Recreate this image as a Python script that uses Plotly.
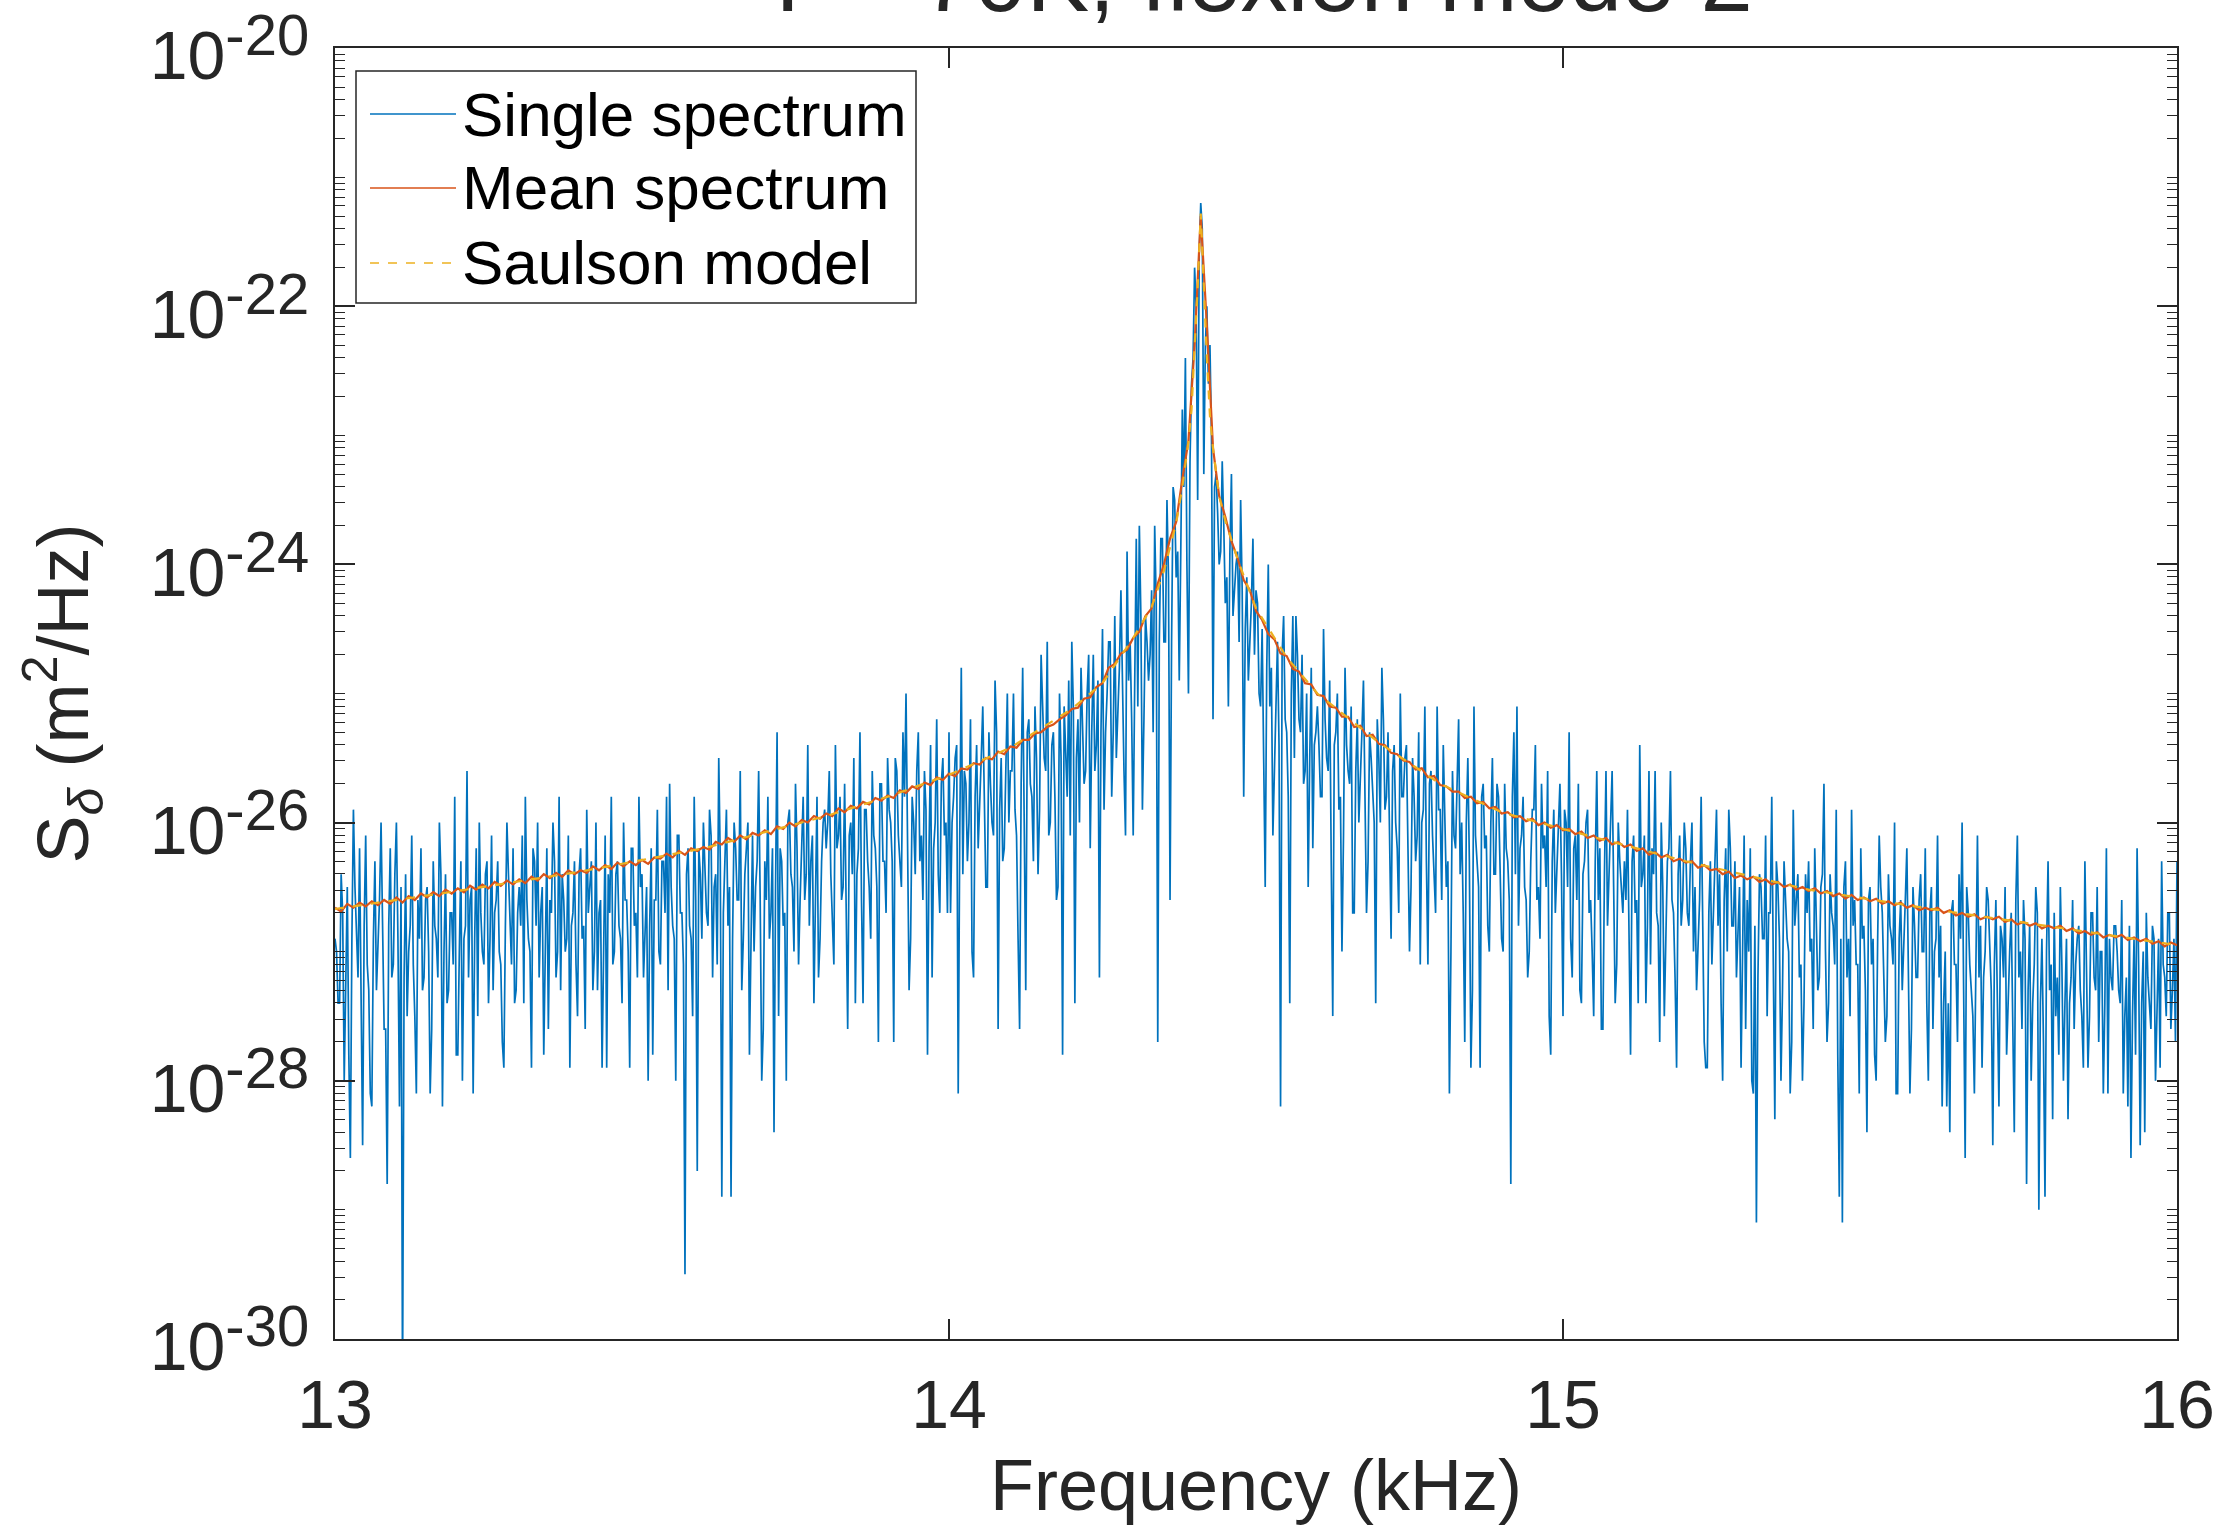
import numpy as np
import plotly.graph_objects as go

# ---------------- data (log10 of PSD in m^2/Hz) ----------------
freq_start_khz = 13.0
freq_stop_khz = 16.0

# single spectrum, 2.5 Hz bins from 13.0000 to 16.0000 kHz (1201 values), one row per 0.1 kHz
single_log10 = [
    -26.9, -27.0, -27.4, -27.4, -26.4, -26.7, -28.0, -27.1, -26.5, -27.8, -28.6, -26.9, -25.9, -26.5, -26.8, -27.2, -26.2, -27.5, -28.5, -26.8, -26.1, -27.1, -27.3, -28.1, -28.2, -26.9, -26.3, -27.3, -26.9, -26.6, -26.0, -27.0, -27.6, -27.6, -28.8, -26.8, -26.2, -27.2, -27.1, -26.4,
    -26.0, -26.9, -28.2, -26.5, -30.4, -27.2, -26.4, -27.5, -27.0, -26.8, -26.1, -27.1, -27.5, -28.1, -26.6, -26.9, -26.2, -27.3, -27.2, -26.6, -26.5, -27.0, -28.1, -27.6, -26.3, -26.8, -26.9, -27.2, -26.0, -26.4, -28.2, -27.0, -26.4, -27.4, -27.3, -26.7, -26.7, -27.1, -25.8, -27.8,
    -27.8, -27.0, -26.3, -28.0, -26.9, -26.8, -25.6, -27.2, -26.6, -26.5, -28.1, -26.9, -26.2, -27.5, -26.0, -26.7, -27.0, -27.1, -26.4, -26.3, -27.4, -26.9, -26.1, -27.3, -26.7, -26.6, -26.3, -27.0, -27.1, -27.7, -27.9, -26.8, -26.0, -26.4, -26.8, -27.1, -26.2, -27.4, -27.3, -26.7,
    -26.5, -26.8, -26.1, -27.4, -25.8, -26.6, -26.9, -27.0, -27.9, -26.2, -26.3, -26.8, -26.0, -27.2, -26.7, -26.5, -27.8, -26.9, -26.2, -27.6, -26.6, -26.7, -26.0, -26.3, -27.2, -27.0, -25.8, -27.3, -26.4, -26.6, -27.0, -26.9, -26.1, -27.9, -26.8, -26.7, -26.3, -27.1, -27.5, -26.4,
    -26.2, -26.9, -26.8, -27.6, -25.9, -26.7, -26.5, -26.3, -27.3, -27.0, -26.0, -27.3, -26.7, -26.6, -27.9, -26.9, -26.1, -27.9, -26.4, -26.7, -25.8, -27.1, -27.0, -26.4, -26.3, -26.8, -26.9, -27.4, -26.0, -26.6, -26.6, -27.0, -27.9, -26.2, -26.2, -26.8, -26.7, -27.2, -25.8, -26.5,
    -26.4, -27.2, -26.9, -26.5, -28.0, -26.8, -26.2, -27.8, -26.6, -26.6, -25.9, -27.0, -27.1, -26.3, -26.3, -26.7, -25.8, -27.3, -25.7, -26.5, -26.8, -26.9, -28.0, -26.1, -26.1, -26.7, -26.7, -27.1, -29.5, -26.4, -26.2, -26.8, -26.9, -27.5, -25.8, -26.6, -28.7, -26.2, -26.4, -26.9,
    -26.0, -26.4, -26.7, -26.8, -25.9, -26.1, -27.2, -26.5, -26.4, -27.1, -25.5, -26.3, -28.9, -26.7, -26.3, -25.9, -26.8, -26.5, -28.9, -26.9, -26.0, -26.2, -26.6, -26.6, -25.6, -27.3, -26.9, -26.4, -26.2, -26.0, -27.8, -26.7, -26.1, -27.0, -26.5, -26.3, -25.6, -26.6, -28.0, -27.6,
    -26.3, -26.6, -25.8, -26.9, -26.7, -26.2, -28.4, -26.5, -25.3, -27.5, -26.2, -26.3, -26.8, -26.7, -28.0, -26.0, -25.9, -26.4, -26.5, -27.0, -25.7, -26.2, -27.1, -26.6, -26.1, -25.8, -26.6, -26.4, -25.4, -26.8, -26.3, -26.1, -27.4, -26.5, -25.8, -27.2, -26.9, -26.3, -26.0, -25.9,
    -26.2, -26.0, -25.6, -26.4, -26.8, -27.1, -25.4, -26.2, -26.1, -25.8, -26.6, -26.5, -25.7, -26.8, -27.6, -26.1, -26.0, -26.4, -25.5, -27.4, -26.4, -26.2, -25.3, -26.6, -27.4, -25.9, -25.9, -26.3, -26.5, -26.9, -25.6, -26.1, -26.2, -26.5, -27.7, -25.7, -25.7, -26.3, -26.3, -26.7,
    -25.5, -25.9, -26.0, -26.3, -27.7, -25.5, -25.6, -26.1, -26.3, -26.5, -25.3, -25.8, -25.0, -26.2, -27.3, -26.9, -25.8, -26.0, -26.4, -25.6, -25.3, -26.3, -26.1, -26.6, -25.6, -25.9, -27.8, -26.2, -25.4, -27.2, -26.2, -26.0, -25.2, -26.4, -26.7, -25.7, -25.5, -26.1, -26.0, -26.7,
    -25.3, -26.7, -26.0, -25.8, -25.5, -25.4, -28.1, -26.1, -24.8, -26.4, -25.6, -25.7, -26.3, -26.0, -25.2, -27.0, -27.2, -25.8, -25.4, -26.2, -25.9, -25.5, -25.1, -25.9, -26.5, -26.5, -25.3, -25.7, -26.0, -26.1, -24.9, -25.3, -27.6, -25.9, -25.5, -26.3, -26.2, -25.6, -25.0, -26.0,
    -25.6, -25.6, -25.0, -25.9, -26.1, -26.9, -27.6, -25.7, -24.8, -26.0, -27.3, -25.3, -25.2, -25.7, -25.8, -26.3, -25.1, -25.5, -26.4, -25.9, -24.7, -25.1, -25.5, -25.6, -24.6, -26.1, -26.0, -25.4, -25.3, -25.8, -26.6, -26.5, -25.0, -25.5, -27.8, -25.1, -25.4, -25.8, -24.9, -26.1,
    -24.6, -25.1, -27.4, -25.5, -25.2, -26.0, -24.8, -25.2, -25.7, -25.6, -25.0, -24.7, -26.2, -25.3, -24.7, -25.6, -25.4, -24.9, -27.2, -25.3, -24.5, -25.9, -25.3, -25.0, -24.6, -24.6, -25.8, -25.3, -24.4, -25.5, -25.1, -24.8, -24.2, -25.1, -25.6, -26.1, -23.9, -24.9, -24.6, -25.2,
    -26.1, -24.9, -23.8, -25.1, -23.7, -24.4, -25.9, -25.2, -24.4, -24.6, -24.9, -24.7, -24.2, -25.3, -23.7, -24.3, -27.7, -24.6, -23.8, -23.8, -24.6, -24.6, -23.5, -24.1, -26.6, -24.6, -23.4, -23.5, -24.1, -23.9, -24.9, -23.9, -22.8, -23.4, -22.4, -24.0, -25.0, -23.2, -22.6, -22.4,
    -21.7, -22.0, -23.5, -21.6, -21.2, -21.4, -23.3, -22.3, -22.0, -22.6, -22.3, -23.0, -25.2, -23.4, -23.3, -23.6, -24.0, -23.9, -23.2, -23.7, -24.3, -24.1, -25.1, -23.9, -23.3, -24.4, -24.2, -24.0, -23.9, -24.6, -23.5, -24.2, -25.8, -24.5, -24.1, -24.9, -24.6, -24.3, -23.8, -24.7,
    -24.2, -24.3, -25.0, -25.1, -24.5, -25.4, -26.5, -24.8, -24.0, -25.1, -24.8, -26.1, -25.6, -25.0, -24.6, -25.4, -28.2, -24.7, -24.4, -25.2, -25.3, -25.8, -27.4, -25.0, -24.4, -25.5, -24.4, -24.7, -25.2, -25.3, -24.7, -25.7, -25.6, -25.0, -26.5, -25.5, -24.8, -26.2, -25.4, -25.3,
    -25.1, -25.4, -25.8, -25.8, -24.5, -25.2, -25.5, -25.6, -24.9, -26.3, -27.5, -25.4, -25.3, -25.0, -25.9, -25.8, -27.0, -26.1, -24.8, -25.4, -25.6, -25.7, -25.1, -26.7, -26.7, -25.6, -25.2, -26.0, -25.7, -25.3, -24.9, -25.7, -26.7, -26.3, -25.3, -25.5, -25.8, -26.0, -27.4, -25.2,
    -25.5, -26.0, -24.8, -25.2, -25.9, -25.8, -25.3, -26.3, -26.9, -25.6, -25.4, -26.0, -26.2, -26.7, -25.0, -25.8, -25.8, -25.5, -25.4, -26.2, -27.0, -26.5, -25.5, -25.8, -26.3, -26.1, -25.3, -27.1, -26.0, -25.9, -25.1, -26.3, -27.1, -25.7, -25.6, -26.1, -26.4, -26.7, -25.1, -25.9,
    -25.9, -26.6, -25.4, -25.9, -26.5, -26.3, -28.1, -27.0, -25.6, -26.1, -26.2, -25.7, -25.2, -26.4, -26.0, -26.7, -27.7, -26.0, -25.5, -26.3, -27.9, -27.3, -25.1, -26.1, -26.3, -26.5, -27.9, -25.8, -25.7, -26.2, -26.1, -26.8, -27.0, -26.0, -25.5, -26.4, -26.4, -25.7, -25.8, -26.3,
    -26.9, -27.0, -25.7, -26.2, -26.3, -26.6, -28.8, -25.8, -25.3, -26.4, -25.1, -26.8, -26.2, -26.1, -25.8, -26.5, -26.6, -27.2, -27.0, -26.3, -25.9, -25.9, -25.4, -26.6, -26.5, -26.9, -25.7, -26.2, -26.1, -26.5, -25.6, -27.5, -27.8, -26.3, -25.9, -26.7, -26.4, -26.0, -25.7, -26.4,
    -27.5, -25.9, -26.0, -26.5, -25.3, -26.9, -27.2, -26.2, -26.1, -26.6, -25.7, -27.3, -27.4, -26.4, -26.3, -26.0, -25.9, -26.7, -26.6, -27.0, -27.5, -26.3, -25.6, -26.6, -26.2, -27.6, -27.6, -26.4, -25.6, -26.8, -26.4, -26.1, -25.6, -26.5, -27.4, -27.1, -26.0, -26.3, -26.5, -26.7,
    -26.3, -26.6, -25.9, -27.0, -27.8, -26.3, -26.1, -26.7, -26.6, -27.4, -25.4, -26.5, -26.4, -26.1, -27.4, -26.8, -25.6, -27.1, -26.2, -26.4, -25.6, -26.7, -26.8, -27.7, -26.0, -26.5, -27.5, -26.9, -26.3, -26.2, -25.6, -26.6, -26.7, -27.2, -27.9, -26.4, -26.1, -26.8, -26.6, -26.0,
    -26.2, -26.7, -26.8, -26.3, -26.0, -27.0, -26.5, -27.3, -27.0, -26.6, -25.8, -26.9, -27.7, -27.9, -27.9, -26.7, -26.3, -27.1, -26.7, -26.4, -25.9, -26.8, -26.4, -27.4, -28.0, -26.6, -26.2, -27.0, -25.9, -26.2, -26.8, -26.8, -26.3, -27.2, -26.9, -26.5, -27.9, -26.9, -26.1, -27.6,
    -26.6, -27.0, -26.2, -28.0, -28.1, -26.8, -29.1, -27.2, -26.4, -26.5, -26.9, -26.9, -26.1, -27.5, -26.7, -26.7, -25.8, -27.1, -28.3, -26.3, -26.5, -26.9, -28.0, -27.3, -26.3, -26.6, -26.9, -27.0, -28.1, -27.7, -25.9, -26.8, -26.6, -26.4, -27.2, -27.1, -28.0, -27.4, -26.4, -26.7,
    -26.3, -27.0, -26.9, -27.6, -26.2, -26.8, -27.3, -27.2, -26.5, -26.4, -25.7, -27.0, -27.7, -27.4, -26.4, -26.7, -26.8, -27.1, -25.9, -27.8, -28.9, -26.9, -29.1, -26.5, -26.3, -27.2, -26.9, -27.5, -25.9, -26.8, -26.6, -27.1, -27.1, -28.1, -26.2, -26.9, -26.8, -27.3, -28.4, -26.6,
    -26.5, -27.1, -26.9, -27.8, -28.0, -26.9, -26.1, -26.5, -26.7, -27.2, -27.7, -27.5, -26.4, -26.8, -26.9, -27.1, -26.0, -28.1, -28.1, -26.9, -26.6, -27.3, -27.0, -26.6, -26.2, -27.0, -28.1, -27.6, -26.5, -26.8, -27.2, -27.2, -26.6, -26.4, -27.0, -27.0, -26.2, -27.4, -28.0, -26.7,
    -26.5, -27.6, -27.0, -26.9, -26.1, -27.2, -26.8, -28.2, -27.4, -27.0, -28.2, -27.4, -28.4, -26.7, -26.6, -27.1, -27.1, -27.7, -26.4, -26.9, -26.0, -27.3, -28.6, -26.5, -26.7, -27.1, -27.3, -27.5, -28.1, -26.8, -26.1, -27.2, -26.8, -27.9, -27.2, -27.0, -26.5, -26.6, -27.0, -27.3,
    -28.5, -27.1, -26.6, -27.5, -28.2, -26.8, -26.9, -27.2, -26.5, -27.8, -27.3, -27.0, -26.7, -27.4, -28.4, -26.6, -26.1, -27.2, -27.0, -27.6, -26.6, -26.9, -28.8, -27.3, -26.8, -28.0, -27.4, -27.1, -26.5, -26.7, -29.0, -27.4, -26.9, -27.7, -28.9, -27.0, -26.3, -27.3, -27.1, -28.3,
    -26.7, -27.5, -27.2, -27.8, -26.5, -27.1, -28.0, -27.4, -26.9, -28.3, -27.4, -27.2, -26.6, -27.6, -27.1, -26.9, -26.8, -27.3, -27.5, -27.9, -26.3, -27.1, -27.9, -27.5, -26.7, -26.7, -27.2, -27.3, -26.5, -27.7, -27.0, -27.0, -28.1, -27.4, -26.2, -28.1, -26.9, -27.2, -27.3, -26.8,
    -26.8, -27.0, -27.3, -27.4, -26.6, -28.1, -27.5, -27.2, -28.2, -26.8, -28.6, -27.5, -26.9, -27.8, -26.2, -27.1, -28.5, -27.4, -27.0, -28.4, -26.7, -27.2, -27.4, -27.6, -26.8, -26.9, -28.0, -27.3, -26.9, -27.9, -26.3, -27.1, -27.2, -27.5, -26.7, -26.7, -27.6, -27.3, -26.9, -27.7,
    -26.3,
]

# mean spectrum, 10 Hz bins from 13.00 to 16.00 kHz (301 values)
mean_log10 = [
    -26.66, -26.69, -26.63, -26.66, -26.62, -26.65, -26.61, -26.64, -26.60, -26.63,
    -26.58, -26.62, -26.57, -26.60, -26.55, -26.58, -26.54, -26.57, -26.52, -26.55,
    -26.51, -26.54, -26.49, -26.52, -26.48, -26.51, -26.46, -26.49, -26.45, -26.48,
    -26.44, -26.47, -26.42, -26.45, -26.40, -26.43, -26.39, -26.42, -26.37, -26.40,
    -26.37, -26.39, -26.34, -26.37, -26.33, -26.36, -26.31, -26.34, -26.30, -26.33,
    -26.29, -26.32, -26.27, -26.28, -26.24, -26.27, -26.22, -26.25, -26.20, -26.22,
    -26.19, -26.21, -26.15, -26.17, -26.12, -26.15, -26.10, -26.13, -26.08, -26.10,
    -26.06, -26.09, -26.03, -26.05, -26.00, -26.03, -25.98, -26.00, -25.95, -25.97,
    -25.93, -25.95, -25.89, -25.92, -25.87, -25.89, -25.84, -25.86, -25.81, -25.83,
    -25.79, -25.81, -25.75, -25.77, -25.72, -25.74, -25.69, -25.71, -25.65, -25.67,
    -25.62, -25.64, -25.58, -25.59, -25.54, -25.55, -25.50, -25.51, -25.45, -25.47,
    -25.41, -25.42, -25.36, -25.36, -25.31, -25.30, -25.26, -25.24, -25.20, -25.17,
    -25.12, -25.11, -25.04, -25.03, -24.95, -24.92, -24.80, -24.77, -24.69, -24.66,
    -24.57, -24.52, -24.40, -24.34, -24.15, -24.00, -23.80, -23.67, -23.34, -23.04,
    -22.30, -21.30, -22.15, -23.10, -23.47, -23.63, -23.82, -23.95, -24.12, -24.20,
    -24.36, -24.43, -24.54, -24.58, -24.69, -24.71, -24.81, -24.83, -24.92, -24.93,
    -25.01, -25.02, -25.10, -25.11, -25.18, -25.18, -25.26, -25.25, -25.33, -25.32,
    -25.39, -25.40, -25.46, -25.47, -25.52, -25.53, -25.59, -25.58, -25.65, -25.64,
    -25.71, -25.72, -25.76, -25.76, -25.81, -25.80, -25.85, -25.84, -25.89, -25.88,
    -25.93, -25.92, -25.96, -25.95, -25.99, -25.97, -26.02, -26.00, -26.04, -26.02,
    -26.06, -26.05, -26.09, -26.07, -26.12, -26.10, -26.14, -26.12, -26.17, -26.15,
    -26.19, -26.17, -26.22, -26.20, -26.25, -26.23, -26.27, -26.25, -26.30, -26.28,
    -26.31, -26.30, -26.35, -26.33, -26.37, -26.36, -26.40, -26.38, -26.43, -26.41,
    -26.44, -26.42, -26.46, -26.44, -26.48, -26.46, -26.50, -26.48, -26.52, -26.50,
    -26.53, -26.51, -26.55, -26.53, -26.57, -26.55, -26.59, -26.56, -26.60, -26.58,
    -26.61, -26.59, -26.63, -26.61, -26.64, -26.62, -26.66, -26.64, -26.68, -26.66,
    -26.68, -26.66, -26.70, -26.68, -26.72, -26.70, -26.73, -26.71, -26.75, -26.73,
    -26.75, -26.73, -26.77, -26.75, -26.79, -26.77, -26.80, -26.78, -26.82, -26.80,
    -26.82, -26.80, -26.84, -26.82, -26.86, -26.84, -26.87, -26.85, -26.89, -26.87,
    -26.89, -26.87, -26.91, -26.89, -26.92, -26.90, -26.94, -26.92, -26.96, -26.93,
    -26.95,
]

# Saulson model (smooth curve)
model_freq_khz = [13.0, 13.2, 13.4, 13.6, 13.8, 13.9, 14.0, 14.1, 14.2, 14.25, 14.3, 14.33,
                  14.35, 14.37, 14.38, 14.39, 14.395, 14.40, 14.405, 14.41, 14.415, 14.42,
                  14.425, 14.43, 14.44, 14.45, 14.47, 14.5, 14.55, 14.6, 14.7, 14.8, 14.9,
                  15.0, 15.2, 15.4, 15.6, 15.8, 16.0]
model_log10 = [-26.67, -26.53, -26.38, -26.20, -25.95, -25.80, -25.63, -25.42, -25.12, -24.92,
               -24.57, -24.33, -24.05, -23.68, -23.40, -23.05, -22.80, -22.35, -21.85, -21.28,
               -21.90, -22.40, -22.85, -23.10, -23.47, -23.66, -23.96, -24.34, -24.72, -25.00,
               -25.38, -25.70, -25.92, -26.05, -26.30, -26.52, -26.67, -26.81, -26.95]

x_tick_values = [13, 14, 15, 16]
y_major_exponents = [-30, -28, -26, -24, -22, -20]

series_names = ["Single spectrum", "Mean spectrum", "Saulson model"]
series_colors = ["#0072BD", "#D95319", "#EDB120"]
series_dash = ["solid", "solid", "dash"]
title_text = "T = 70K, flexion mode 2"

# ---------------- figure ----------------
W, H = 2233, 1525
ML, MR, MT, MB = 335, 56, 48, 186
FONT = "Liberation Sans, Arial, Helvetica, sans-serif"
AXC = "#262626"
plot_w = W - ML - MR
plot_h = H - MT - MB


def px_x(x):
    return (x - ML) / plot_w


def px_y(y):
    return 1 - (y - MT) / plot_h


single_freq = np.linspace(freq_start_khz, freq_stop_khz, len(single_log10))
mean_freq = np.linspace(freq_start_khz, freq_stop_khz, len(mean_log10))

fig = go.Figure()
fig.add_trace(go.Scatter(x=single_freq, y=10.0 ** np.array(single_log10), mode="lines",
                         name=series_names[0], line=dict(color=series_colors[0], width=1.7)))
fig.add_trace(go.Scatter(x=mean_freq, y=10.0 ** np.array(mean_log10), mode="lines",
                         name=series_names[1], line=dict(color=series_colors[1], width=2.2)))
fig.add_trace(go.Scatter(x=model_freq_khz, y=10.0 ** np.array(model_log10), mode="lines",
                         name=series_names[2], line=dict(color=series_colors[2], width=2.2, dash="dash")))

major_vals = [10.0 ** e for e in y_major_exponents]
major_text = ['<span style="font-size:68px">10</span>'
              '<span style="font-size:58px;baseline-shift:24px">%d</span>' % e
              for e in y_major_exponents]
minor_vals = []
for n in range(-30, -20):
    for k in range(1, 10):
        if k == 1 and n in y_major_exponents:
            continue
        minor_vals.append(k * 10.0 ** n)

# legend (drawn as a boxed key in the upper-left corner)
shapes = [dict(type="rect", xref="paper", yref="paper",
               x0=px_x(356), x1=px_x(916), y0=px_y(303), y1=px_y(71),
               line=dict(color=AXC, width=1.5), fillcolor="white", layer="above")]
annotations = []
row_y = [114, 188, 263]
for name, col, dash, ry in zip(series_names, series_colors, series_dash, row_y):
    shapes.append(dict(type="line", xref="paper", yref="paper",
                       x0=px_x(370), x1=px_x(456), y0=px_y(ry), y1=px_y(ry),
                       line=dict(color=col, width=1.6, dash=dash), layer="above"))
    annotations.append(dict(text=name, xref="paper", yref="paper", x=px_x(460), y=px_y(ry),
                            xanchor="left", yanchor="middle", showarrow=False,
                            font=dict(family=FONT, size=62, color="black")))

annotations.append(dict(
    text=title_text, xref="paper", yref="paper", x=0.5, y=1.0,
    xanchor="center", yanchor="bottom", yshift=15, showarrow=False,
    font=dict(family=FONT, size=94, color=AXC),
))

fig.update_layout(
    width=W, height=H,
    margin=dict(l=ML, r=MR, t=MT, b=MB, pad=0, autoexpand=False),
    paper_bgcolor="white", plot_bgcolor="white",
    font=dict(family=FONT, color=AXC, size=66),
    showlegend=False,
    xaxis=dict(
        range=[freq_start_khz, freq_stop_khz], automargin=False,
        tickmode="array", tickvals=x_tick_values, ticktext=[str(v) for v in x_tick_values],
        ticks="inside", ticklen=20, tickwidth=1.5, tickcolor=AXC,
        showline=True, linecolor=AXC, linewidth=2, mirror="ticks",
        showgrid=False, zeroline=False,
        tickfont=dict(family=FONT, size=68, color=AXC),
        ticklabelstandoff=5, ticklabeloverflow="allow",
        title=dict(text="Frequency (kHz)", font=dict(family=FONT, size=72, color=AXC), standoff=20),
    ),
    yaxis=dict(
        type="log", range=[-30.002, -19.998], automargin=False,
        tickmode="array", tickvals=major_vals, ticktext=major_text,
        ticks="inside", ticklen=20, tickwidth=1.5, tickcolor=AXC,
        minor=dict(tickmode="array", tickvals=minor_vals, ticks="inside", ticklen=10,
                   tickwidth=1.2, tickcolor=AXC, showgrid=False),
        showline=True, linecolor=AXC, linewidth=2, mirror="ticks",
        showgrid=False, zeroline=False,
        tickfont=dict(family=FONT, size=89, color=AXC),
        ticklabelstandoff=6, ticklabeloverflow="allow",
        title=dict(text="S<sub><i>δ</i></sub> (m<sup>2</sup>/Hz)",
                   font=dict(family=FONT, size=72, color=AXC), standoff=38),
    ),
    shapes=shapes,
    annotations=annotations,
)

fig.write_html("out.html", include_plotlyjs=True, config={"displayModeBar": False},
               post_script="document.body.style.margin='0';")
